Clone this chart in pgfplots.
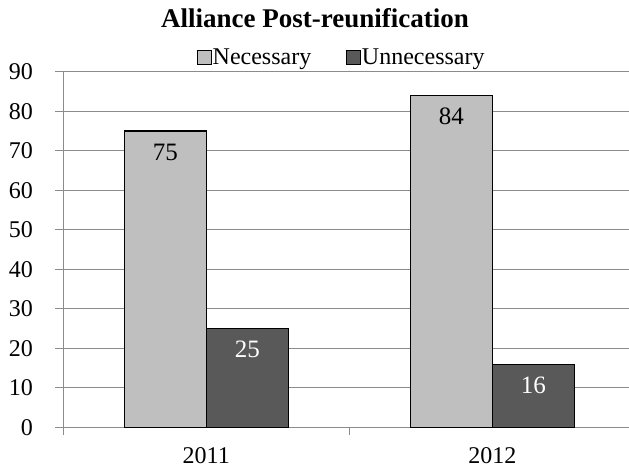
\documentclass[border=0pt]{standalone}
\usepackage{pgfplots}
\pgfplotsset{compat=1.18}
\usepackage{fontspec}
\setmainfont{Liberation Serif}
\definecolor{lightbar}{HTML}{BFBFBF}
\definecolor{darkbar}{HTML}{595959}
\definecolor{gridgray}{HTML}{8C8C8C}
\begin{document}
\begin{tikzpicture}
\path[use as bounding box] (-63.3pt,-42.7pt) rectangle (565.7pt,427.3pt);
\begin{axis}[
  at={(0pt,0pt)}, anchor=south west,
  scale only axis, width=572pt, height=355.6pt,
  ybar=0pt, bar width=82pt,
  xmin=-0.5, xmax=1.5, ymin=0, ymax=90,
  xtick={-0.5,0.5,1.5}, xticklabels={},
  extra x ticks={0,1}, extra x tick labels={2011,2012},
  extra x tick style={major tick length=0pt},
  ytick={0,10,...,90},
  ymajorgrids,
  major grid style={gridgray, line width=1.2pt},
  axis x line*=bottom, axis y line*=left,
  xtick pos=bottom, ytick pos=left,
  tick align=outside, major tick length=8pt,
  axis line style={gridgray, line width=1.2pt},
  tick style={gridgray, line width=1.2pt},
  /pgf/number format/assume math mode=true,
  ticklabel style={font=\fontsize{24}{24}\selectfont, text=black},
  yticklabel style={xshift=-19pt},
  xticklabel style={yshift=-17pt},
  title={Alliance Post-reunification},
  title style={font=\bfseries\fontsize{27}{27}\selectfont, at={(0.44,1.106)}, anchor=base},
  legend style={at={(0.486,1.041)}, anchor=center, draw=none, fill=none,
    legend columns=2, font=\fontsize{24}{24}\selectfont,
    /tikz/every even column/.append style={column sep=34pt},
    inner sep=0pt, nodes={inner sep=1pt}},
  nodes near coords,
  every node near coord/.append style={anchor=center, yshift=-21pt, font=\fontsize{25}{25}\selectfont},
]
\addplot[draw=black, fill=lightbar, line width=1.1pt,
  legend image code/.code={\draw[draw=black, fill=lightbar, line width=0.7pt] (0pt,-7pt) rectangle (14pt,7pt);}]
  coordinates {(0,75) (1,84)};
\addplot[draw=black, fill=darkbar, line width=1.1pt,
  every node near coord/.append style={text=white},
  legend image code/.code={\draw[draw=black, fill=darkbar, line width=0.7pt] (0pt,-7pt) rectangle (14pt,7pt);}]
  coordinates {(0,25) (1,16)};
\legend{Necessary, Unnecessary}
\end{axis}
\end{tikzpicture}
\end{document}
